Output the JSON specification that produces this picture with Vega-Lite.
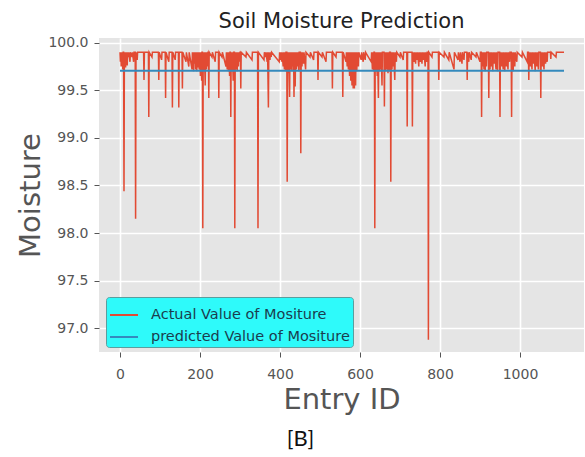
{
  "$schema": "https://vega.github.io/schema/vega-lite/v6.json",
  "padding": {"left": 16, "top": 10, "right": 0, "bottom": 0},
  "background": "white",
  "title": {"text": "[B]", "orient": "bottom", "anchor": "middle", "font": "Lato", "fontSize": 22, "fontWeight": "normal", "color": "#111111", "offset": 15},
  "config": {
    "view": {"fill": "#E5E5E5", "stroke": null},
    "axis": {"gridColor": "#FFFFFF", "gridWidth": 1.6, "domain": false, "tickColor": "#555555", "tickSize": 5, "tickWidth": 1, "labelColor": "#555555", "labelFont": "DejaVu Sans", "labelFontSize": 14, "titleFont": "DejaVu Sans", "titleFontSize": 29, "titleFontWeight": "normal", "titleColor": "#555555"}
  },
  "datasets": {
    "actual": [
      {"x":0,"y":99.9},{"x":1,"y":99.8},{"x":2,"y":99.9},{"x":3,"y":99.75},{"x":4,"y":99.9},{"x":5,"y":99.85},{"x":6,"y":99.9},{"x":7,"y":99.72},{"x":8,"y":99.9},{"x":9,"y":99.9},{"x":10,"y":98.44},{"x":11,"y":99.9},{"x":12,"y":99.78},{"x":13,"y":99.9},{"x":14,"y":99.74},{"x":15,"y":99.9},{"x":16,"y":99.82},{"x":17,"y":99.9},{"x":18,"y":99.76},{"x":19,"y":99.9},{"x":21,"y":99.85},{"x":22,"y":99.9},{"x":25,"y":99.8},{"x":26,"y":99.9},{"x":30,"y":99.85},{"x":31,"y":99.9},{"x":34,"y":99.8},{"x":35,"y":99.9},{"x":38,"y":99.9},{"x":39,"y":98.15},{"x":40,"y":99.9},{"x":43,"y":99.82},{"x":44,"y":99.9},
      {"x":59,"y":99.9},{"x":60,"y":99.61},{"x":61,"y":99.9},{"x":71,"y":99.9},{"x":72,"y":99.22},{"x":73,"y":99.9},{"x":80,"y":99.85},{"x":81,"y":99.9},{"x":96,"y":99.9},{"x":97,"y":99.61},{"x":98,"y":99.9},{"x":104,"y":99.82},{"x":105,"y":99.9},{"x":113,"y":99.9},{"x":114,"y":99.42},{"x":115,"y":99.9},{"x":122,"y":99.8},{"x":123,"y":99.9},{"x":130,"y":99.9},{"x":131,"y":99.32},{"x":132,"y":99.9},{"x":138,"y":99.82},{"x":139,"y":99.9},{"x":146,"y":99.9},{"x":147,"y":99.32},{"x":148,"y":99.9},{"x":155,"y":99.9},{"x":156,"y":99.52},{"x":157,"y":99.9},{"x":165,"y":99.8},{"x":166,"y":99.9},{"x":172,"y":99.75},{"x":173,"y":99.9},
      {"x":180,"y":99.72},{"x":181,"y":99.9},{"x":182,"y":99.75},{"x":183,"y":99.9},{"x":184,"y":99.7},{"x":185,"y":99.9},{"x":187,"y":99.78},{"x":188,"y":99.9},{"x":189,"y":99.72},{"x":190,"y":99.9},{"x":192,"y":99.7},{"x":193,"y":99.9},{"x":195,"y":99.74},{"x":196,"y":99.9},{"x":198,"y":99.72},{"x":199,"y":99.9},{"x":201,"y":99.65},{"x":202,"y":99.9},{"x":204,"y":99.6},{"x":205,"y":99.9},{"x":206,"y":99.9},{"x":207,"y":98.05},{"x":208,"y":99.9},{"x":210,"y":99.7},{"x":211,"y":99.9},{"x":213,"y":99.55},{"x":214,"y":99.9},{"x":216,"y":99.72},{"x":217,"y":99.9},{"x":219,"y":99.75},{"x":220,"y":99.9},{"x":221,"y":99.9},{"x":222,"y":99.42},{"x":223,"y":99.9},
      {"x":230,"y":99.85},{"x":231,"y":99.9},{"x":238,"y":99.8},{"x":239,"y":99.9},{"x":246,"y":99.9},{"x":247,"y":99.42},{"x":248,"y":99.9},{"x":255,"y":99.85},{"x":256,"y":99.9},
      {"x":265,"y":99.75},{"x":266,"y":99.9},{"x":268,"y":99.72},{"x":269,"y":99.9},{"x":271,"y":99.7},{"x":272,"y":99.9},{"x":274,"y":99.65},{"x":275,"y":99.9},{"x":276,"y":99.9},{"x":277,"y":99.22},{"x":278,"y":99.9},{"x":280,"y":99.7},{"x":281,"y":99.9},{"x":283,"y":99.6},{"x":284,"y":99.9},{"x":286,"y":99.9},{"x":287,"y":98.05},{"x":288,"y":99.9},{"x":290,"y":99.72},{"x":291,"y":99.9},{"x":293,"y":99.7},{"x":294,"y":99.9},{"x":296,"y":99.75},{"x":297,"y":99.9},{"x":299,"y":99.8},{"x":300,"y":99.9},{"x":301,"y":99.9},{"x":302,"y":99.52},{"x":303,"y":99.9},
      {"x":315,"y":99.85},{"x":316,"y":99.9},{"x":330,"y":99.82},{"x":331,"y":99.9},{"x":344,"y":99.9},{"x":345,"y":98.05},{"x":346,"y":99.9},
      {"x":360,"y":99.82},{"x":361,"y":99.9},{"x":364,"y":99.85},{"x":365,"y":99.9},{"x":368,"y":99.8},{"x":369,"y":99.9},{"x":371,"y":99.32},{"x":372,"y":99.9},{"x":375,"y":99.82},{"x":376,"y":99.9},{"x":378,"y":99.85},{"x":379,"y":99.9},
      {"x":398,"y":99.8},{"x":399,"y":99.9},{"x":401,"y":99.82},{"x":402,"y":99.9},{"x":404,"y":99.8},{"x":405,"y":99.9},{"x":408,"y":99.75},{"x":409,"y":99.9},{"x":411,"y":99.72},{"x":412,"y":99.9},{"x":414,"y":99.7},{"x":415,"y":99.9},{"x":417,"y":99.9},{"x":418,"y":98.54},{"x":419,"y":99.9},{"x":421,"y":99.68},{"x":422,"y":99.9},{"x":424,"y":99.43},{"x":425,"y":99.9},{"x":427,"y":99.72},{"x":428,"y":99.9},{"x":430,"y":99.7},{"x":431,"y":99.9},{"x":433,"y":99.75},{"x":434,"y":99.9},{"x":435,"y":99.43},{"x":436,"y":99.9},{"x":438,"y":99.54},{"x":439,"y":99.9},{"x":441,"y":99.72},{"x":442,"y":99.9},{"x":444,"y":99.75},{"x":445,"y":99.9},{"x":447,"y":99.7},{"x":448,"y":99.9},{"x":451,"y":99.9},{"x":452,"y":98.84},{"x":453,"y":99.9},{"x":455,"y":99.75},{"x":456,"y":99.9},{"x":459,"y":99.78},{"x":460,"y":99.9},{"x":464,"y":99.72},{"x":465,"y":99.9},
      {"x":475,"y":99.85},{"x":476,"y":99.9},{"x":484,"y":99.82},{"x":485,"y":99.9},{"x":494,"y":99.9},{"x":495,"y":99.61},{"x":496,"y":99.9},{"x":505,"y":99.85},{"x":506,"y":99.9},{"x":515,"y":99.8},{"x":516,"y":99.9},{"x":530,"y":99.9},{"x":531,"y":99.52},{"x":532,"y":99.9},{"x":540,"y":99.85},{"x":541,"y":99.9},{"x":556,"y":99.9},{"x":557,"y":99.43},{"x":558,"y":99.9},
      {"x":565,"y":99.8},{"x":566,"y":99.9},{"x":568,"y":99.75},{"x":569,"y":99.9},{"x":571,"y":99.72},{"x":572,"y":99.9},{"x":574,"y":99.65},{"x":575,"y":99.9},{"x":577,"y":99.6},{"x":578,"y":99.9},{"x":580,"y":99.55},{"x":581,"y":99.9},{"x":583,"y":99.52},{"x":584,"y":99.9},{"x":586,"y":99.52},{"x":587,"y":99.9},{"x":589,"y":99.55},{"x":590,"y":99.9},{"x":592,"y":99.7},{"x":593,"y":99.9},{"x":596,"y":99.75},{"x":597,"y":99.9},
      {"x":603,"y":99.82},{"x":604,"y":99.9},{"x":608,"y":99.8},{"x":609,"y":99.9},{"x":613,"y":99.82},{"x":614,"y":99.9},
      {"x":628,"y":99.8},{"x":629,"y":99.9},{"x":631,"y":99.72},{"x":632,"y":99.9},{"x":634,"y":99.7},{"x":635,"y":99.9},{"x":636,"y":99.9},{"x":637,"y":98.05},{"x":638,"y":99.9},{"x":640,"y":99.7},{"x":641,"y":99.9},{"x":643,"y":99.65},{"x":644,"y":99.9},{"x":646,"y":99.42},{"x":647,"y":99.9},{"x":649,"y":99.7},{"x":650,"y":99.9},{"x":652,"y":99.72},{"x":653,"y":99.9},{"x":655,"y":99.55},{"x":656,"y":99.9},{"x":660,"y":99.9},{"x":661,"y":99.33},{"x":662,"y":99.9},{"x":664,"y":99.7},{"x":665,"y":99.9},{"x":667,"y":99.72},{"x":668,"y":99.9},{"x":670,"y":99.68},{"x":671,"y":99.9},{"x":673,"y":99.7},{"x":674,"y":99.9},{"x":676,"y":99.9},{"x":677,"y":98.54},{"x":678,"y":99.9},{"x":680,"y":99.72},{"x":681,"y":99.9},{"x":683,"y":99.75},{"x":684,"y":99.9},{"x":687,"y":99.61},{"x":688,"y":99.9},{"x":691,"y":99.8},{"x":692,"y":99.9},
      {"x":700,"y":99.85},{"x":701,"y":99.9},{"x":708,"y":99.82},{"x":709,"y":99.9},{"x":717,"y":99.9},{"x":718,"y":99.12},{"x":719,"y":99.9},{"x":730,"y":99.9},{"x":731,"y":99.12},{"x":732,"y":99.9},
      {"x":735,"y":99.8},{"x":736,"y":99.9},{"x":739,"y":99.78},{"x":740,"y":99.9},{"x":743,"y":99.82},{"x":744,"y":99.9},{"x":747,"y":99.75},{"x":748,"y":99.9},{"x":751,"y":99.8},{"x":752,"y":99.9},{"x":755,"y":99.78},{"x":756,"y":99.9},{"x":759,"y":99.82},{"x":760,"y":99.9},{"x":763,"y":99.75},{"x":764,"y":99.9},{"x":767,"y":99.8},{"x":768,"y":99.9},{"x":770,"y":99.9},{"x":771,"y":96.88},{"x":772,"y":99.9},
      {"x":780,"y":99.85},{"x":781,"y":99.9},{"x":796,"y":99.9},{"x":797,"y":99.61},{"x":798,"y":99.9},{"x":810,"y":99.85},{"x":811,"y":99.9},{"x":822,"y":99.82},{"x":823,"y":99.9},{"x":835,"y":99.72},{"x":836,"y":99.9},
      {"x":845,"y":99.82},{"x":846,"y":99.9},{"x":850,"y":99.8},{"x":851,"y":99.9},{"x":855,"y":99.78},{"x":856,"y":99.9},{"x":860,"y":99.82},{"x":861,"y":99.9},{"x":867,"y":99.9},{"x":868,"y":99.61},{"x":869,"y":99.9},{"x":872,"y":99.8},{"x":873,"y":99.9},{"x":878,"y":99.82},{"x":879,"y":99.9},{"x":890,"y":99.85},{"x":891,"y":99.9},
      {"x":900,"y":99.8},{"x":901,"y":99.9},{"x":903,"y":99.9},{"x":904,"y":99.22},{"x":905,"y":99.9},{"x":907,"y":99.75},{"x":908,"y":99.9},{"x":910,"y":99.72},{"x":911,"y":99.9},{"x":913,"y":99.7},{"x":914,"y":99.9},{"x":916,"y":99.75},{"x":917,"y":99.9},{"x":921,"y":99.9},{"x":922,"y":99.42},{"x":923,"y":99.9},{"x":925,"y":99.72},{"x":926,"y":99.9},{"x":928,"y":99.75},{"x":929,"y":99.9},{"x":932,"y":99.7},{"x":933,"y":99.9},{"x":936,"y":99.78},{"x":937,"y":99.9},{"x":940,"y":99.72},{"x":941,"y":99.9},{"x":944,"y":99.7},{"x":945,"y":99.9},{"x":949,"y":99.9},{"x":950,"y":99.22},{"x":951,"y":99.9},{"x":954,"y":99.75},{"x":955,"y":99.9},{"x":958,"y":99.72},{"x":959,"y":99.9},{"x":962,"y":99.7},{"x":963,"y":99.9},{"x":966,"y":99.75},{"x":967,"y":99.9},{"x":970,"y":99.72},{"x":971,"y":99.9},{"x":974,"y":99.8},{"x":975,"y":99.9},{"x":978,"y":99.9},{"x":979,"y":99.22},{"x":980,"y":99.9},{"x":983,"y":99.7},{"x":984,"y":99.9},{"x":987,"y":99.75},{"x":988,"y":99.9},{"x":992,"y":99.8},{"x":993,"y":99.9},
      {"x":1005,"y":99.85},{"x":1006,"y":99.9},
      {"x":1018,"y":99.8},{"x":1019,"y":99.9},{"x":1021,"y":99.9},{"x":1022,"y":99.61},{"x":1023,"y":99.9},{"x":1026,"y":99.75},{"x":1027,"y":99.9},{"x":1030,"y":99.72},{"x":1031,"y":99.9},{"x":1034,"y":99.78},{"x":1035,"y":99.9},{"x":1038,"y":99.7},{"x":1039,"y":99.9},{"x":1042,"y":99.75},{"x":1043,"y":99.9},{"x":1046,"y":99.72},{"x":1047,"y":99.9},{"x":1051,"y":99.9},{"x":1052,"y":99.42},{"x":1053,"y":99.9},{"x":1056,"y":99.75},{"x":1057,"y":99.9},{"x":1060,"y":99.72},{"x":1061,"y":99.9},{"x":1064,"y":99.78},{"x":1065,"y":99.9},{"x":1068,"y":99.8},{"x":1069,"y":99.9},{"x":1076,"y":99.9},{"x":1077,"y":99.83},{"x":1078,"y":99.9},{"x":1090,"y":99.85},{"x":1091,"y":99.9},{"x":1110,"y":99.9}
    ],
    "pred": [{"x":0,"y":99.705},{"x":1110,"y":99.705}]
  },
  "vconcat": [
    {
      "width": 485,
      "height": 314,
      "title": {"text": "Soil Moisture Prediction", "font": "DejaVu Sans", "fontSize": 21, "fontWeight": "normal", "color": "#222222", "offset": 4},
      "layer": [
        {
          "data": {"name": "actual"},
          "mark": {"type": "line", "strokeWidth": 1.5, "clip": true},
          "encoding": {
            "x": {"field": "x", "type": "quantitative", "title": "Entry ID", "scale": {"domain": [-52.5, 1160], "nice": false, "zero": false}, "axis": {"values": [0, 200, 400, 600, 800, 1000], "format": "d", "labelPadding": 10, "titlePadding": 4}},
            "y": {"field": "y", "type": "quantitative", "title": "Moisture", "scale": {"domain": [96.75, 100.05], "nice": false, "zero": false}, "axis": {"values": [97, 97.5, 98, 98.5, 99, 99.5, 100], "format": ".1f", "labelPadding": 6, "titlePadding": 2}},
            "color": {
              "datum": "Actual Value of Mositure",
              "scale": {"domain": ["Actual Value of Mositure", "predicted Value of Mositure"], "range": ["#E24A33", "#348ABD"]},
              "legend": {"title": null, "orient": "none", "legendX": 7, "legendY": 259, "fillColor": "#2EFAFA", "strokeColor": "#5A9E9E", "cornerRadius": 3, "padding": 3, "symbolType": "stroke", "symbolSize": 784, "symbolStrokeWidth": 2, "labelFont": "DejaVu Sans", "labelFontSize": 14.5, "labelColor": "#1B3D4F", "labelOffset": 12, "rowPadding": -7, "labelLimit": 300}
            }
          }
        },
        {
          "data": {"name": "pred"},
          "mark": {"type": "line", "strokeWidth": 2},
          "encoding": {
            "x": {"field": "x", "type": "quantitative"},
            "y": {"field": "y", "type": "quantitative"},
            "color": {"datum": "predicted Value of Mositure"}
          }
        }
      ]
    }
  ]
}
